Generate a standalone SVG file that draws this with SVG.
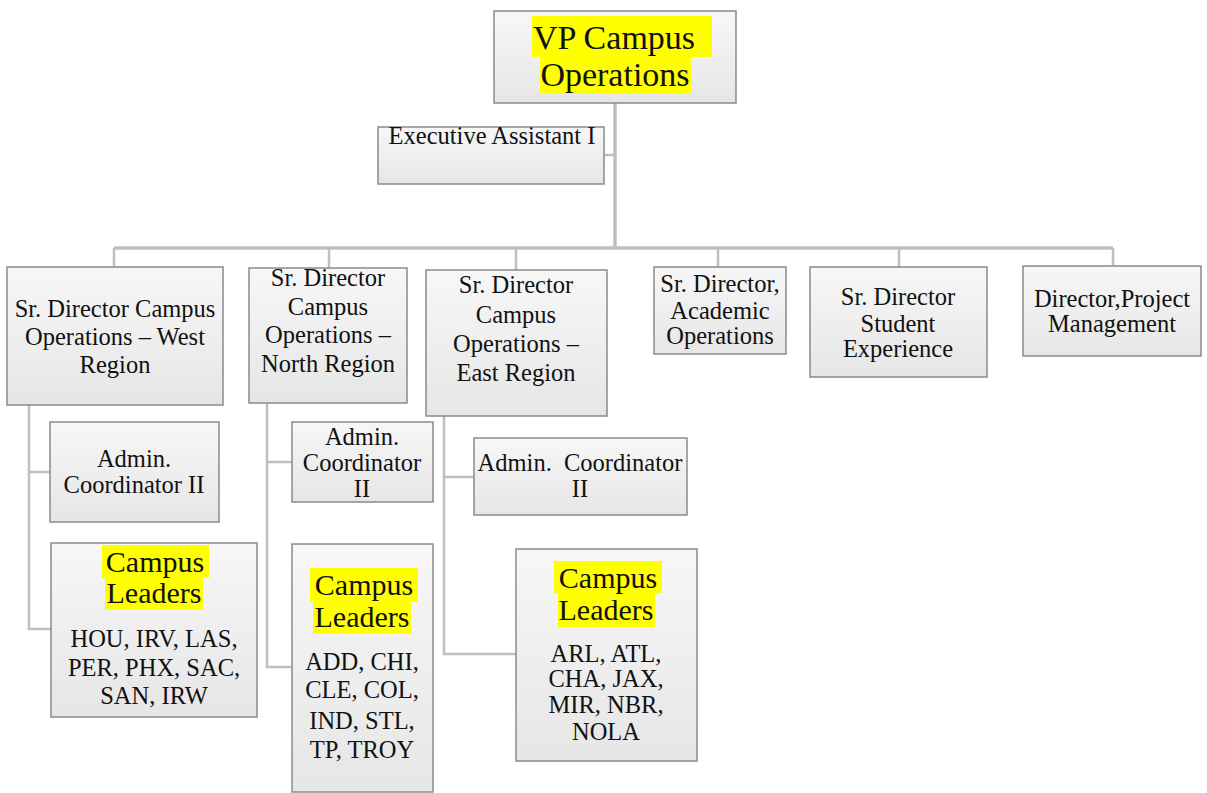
<svg xmlns="http://www.w3.org/2000/svg" width="1207" height="793" viewBox="0 0 1207 793">
<defs>
<linearGradient id="g" x1="0" y1="0" x2="0" y2="1">
<stop offset="0" stop-color="#f7f7f7"/>
<stop offset="1" stop-color="#e6e6e6"/>
</linearGradient>
</defs>
<rect width="1207" height="793" fill="#fff"/>
<g id="connectors" fill="none" stroke="#bfbfbf" stroke-width="2.5">
<path stroke-width="3.5" d="M615,103 V248"/>
<path d="M604,155 H615"/>
<path stroke-width="3.5" d="M114,248 H1113"/>
<path d="M114,248 V267 M329,248 V268 M516,248 V270 M718,248 V267 M899,248 V267 M1113,248 V266"/>
<path d="M29,405 V629 H52 M29,472 H50"/>
<path d="M267,403 V667 H293 M267,462 H292"/>
<path d="M444,416 V654 H516 M444,477 H474"/>
</g>
<g id="nodes" font-family="Liberation Serif" font-size="24.5" fill="#111" text-anchor="middle">
<g id="vp">
<rect fill="url(#g)" stroke="#8a8a8a" stroke-width="1.5" x="494" y="11" width="242" height="92"/>
<rect fill="#ffff00" x="532" y="16" width="180" height="41"/>
<rect fill="#ffff00" x="540" y="57" width="151" height="37"/>
<text font-size="34" x="614" y="49">VP Campus</text>
<text font-size="34" x="615" y="86">Operations</text>
</g>
<g id="exec">
<rect fill="url(#g)" stroke="#8a8a8a" stroke-width="1.5" x="378" y="127" width="226" height="57"/>
<text x="492" y="144">Executive Assistant I</text>
</g>
<g id="west">
<rect fill="url(#g)" stroke="#8a8a8a" stroke-width="1.5" x="7" y="267" width="216" height="138"/>
<text x="115" y="317">Sr. Director Campus</text>
<text x="115" y="345">Operations – West</text>
<text x="115" y="373">Region</text>
</g>
<g id="north">
<rect fill="url(#g)" stroke="#8a8a8a" stroke-width="1.5" x="249" y="268" width="158" height="135"/>
<text x="328" y="286">Sr. Director</text>
<text x="328" y="315">Campus</text>
<text x="328" y="343">Operations –</text>
<text x="328" y="372">North Region</text>
</g>
<g id="east">
<rect fill="url(#g)" stroke="#8a8a8a" stroke-width="1.5" x="426" y="270" width="181" height="146"/>
<text x="516" y="293">Sr. Director</text>
<text x="516" y="323">Campus</text>
<text x="516" y="352">Operations –</text>
<text x="516" y="381">East Region</text>
</g>
<g id="academic">
<rect fill="url(#g)" stroke="#8a8a8a" stroke-width="1.5" x="654" y="267" width="132" height="87"/>
<text x="720" y="292">Sr. Director,</text>
<text x="720" y="319">Academic</text>
<text x="720" y="344">Operations</text>
</g>
<g id="student">
<rect fill="url(#g)" stroke="#8a8a8a" stroke-width="1.5" x="810" y="267" width="177" height="110"/>
<text x="898" y="305">Sr. Director</text>
<text x="898" y="332">Student</text>
<text x="898" y="357">Experience</text>
</g>
<g id="pm">
<rect fill="url(#g)" stroke="#8a8a8a" stroke-width="1.5" x="1023" y="266" width="178" height="90"/>
<text x="1112" y="307">Director,Project</text>
<text x="1112" y="332">Management</text>
</g>
<g id="admin-west">
<rect fill="url(#g)" stroke="#8a8a8a" stroke-width="1.5" x="50" y="422" width="169" height="100"/>
<text x="134" y="467">Admin.</text>
<text x="134" y="493">Coordinator II</text>
</g>
<g id="admin-north">
<rect fill="url(#g)" stroke="#8a8a8a" stroke-width="1.5" x="292" y="422" width="141" height="80"/>
<text x="362" y="445">Admin.</text>
<text x="362" y="471">Coordinator</text>
<text x="362" y="497">II</text>
</g>
<g id="admin-east">
<rect fill="url(#g)" stroke="#8a8a8a" stroke-width="1.5" x="474" y="438" width="213" height="77"/>
<text x="580" y="471">Admin.&#160; Coordinator</text>
<text x="580" y="497">II</text>
</g>
<g id="leaders-west">
<rect fill="url(#g)" stroke="#8a8a8a" stroke-width="1.5" x="51" y="543" width="206" height="174"/>
<rect fill="#ffff00" x="102" y="545" width="107" height="33"/>
<rect fill="#ffff00" x="105" y="578" width="98" height="32"/>
<text font-size="30" x="155" y="572">Campus</text>
<text font-size="30" x="154" y="603">Leaders</text>
<text x="154" y="647">HOU, IRV, LAS,</text>
<text x="154" y="676">PER, PHX, SAC,</text>
<text x="154" y="704">SAN, IRW</text>
</g>
<g id="leaders-north">
<rect fill="url(#g)" stroke="#8a8a8a" stroke-width="1.5" x="292" y="544" width="141" height="248"/>
<rect fill="#ffff00" x="310" y="568" width="108" height="34"/>
<rect fill="#ffff00" x="313" y="602" width="98" height="32"/>
<text font-size="30" x="364" y="595">Campus</text>
<text font-size="30" x="362" y="627">Leaders</text>
<text x="362" y="670">ADD, CHI,</text>
<text x="362" y="698">CLE, COL,</text>
<text x="362" y="729">IND, STL,</text>
<text x="362" y="758">TP, TROY</text>
</g>
<g id="leaders-east">
<rect fill="url(#g)" stroke="#8a8a8a" stroke-width="1.5" x="516" y="549" width="181" height="212"/>
<rect fill="#ffff00" x="554" y="561" width="108" height="32"/>
<rect fill="#ffff00" x="558" y="593" width="97" height="34"/>
<text font-size="30" x="608" y="588">Campus</text>
<text font-size="30" x="606" y="620">Leaders</text>
<text x="606" y="662">ARL, ATL,</text>
<text x="606" y="687">CHA, JAX,</text>
<text x="606" y="713">MIR, NBR,</text>
<text x="606" y="740">NOLA</text>
</g>
</g>
</svg>
